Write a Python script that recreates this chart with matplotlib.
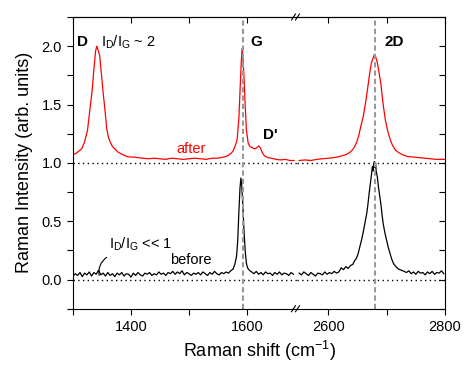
import numpy as np
import matplotlib
matplotlib.use('Agg')
import matplotlib.pyplot as plt

plt.rcParams['font.family'] = ['Liberation Sans', 'DejaVu Sans']
plt.rcParams['mathtext.fontset'] = 'custom'
plt.rcParams['mathtext.rm'] = 'Liberation Sans'
plt.rcParams['mathtext.it'] = 'Liberation Sans:italic'
plt.rcParams['mathtext.bf'] = 'Liberation Sans:bold'
plt.rcParams['axes.linewidth'] = 0.8

# ---- spectra (Raman shift in cm^-1, intensity in arb. units) ----
# "after" spectrum, low-wavenumber window (D, G, D')
after_lo_x = [1300, 1305, 1310, 1315, 1320, 1325, 1329, 1333, 1336, 1339, 1341, 1343, 1346, 1349,
              1352, 1355, 1358, 1361, 1364, 1368, 1372, 1378, 1384, 1390, 1396, 1404, 1412, 1420,
              1430, 1440, 1450, 1460, 1470, 1480, 1490, 1500, 1510, 1520, 1530, 1540, 1550, 1560,
              1566, 1571, 1576, 1580, 1583, 1586, 1588, 1590, 1591.5, 1593, 1595, 1597, 1599, 1602,
              1605, 1609, 1613, 1617, 1620, 1623, 1626, 1630, 1636, 1642, 1650, 1658, 1666, 1674, 1681]
after_lo_y = [1.07, 1.08, 1.10, 1.12, 1.18, 1.28, 1.45, 1.62, 1.80, 1.96, 2.00, 1.97, 1.92, 1.76,
              1.60, 1.46, 1.30, 1.22, 1.18, 1.14, 1.12, 1.09, 1.075, 1.06, 1.05, 1.05, 1.045, 1.04,
              1.035, 1.04, 1.035, 1.03, 1.04, 1.035, 1.03, 1.035, 1.04, 1.035, 1.03, 1.04, 1.04, 1.05,
              1.06, 1.075, 1.10, 1.15, 1.20, 1.38, 1.62, 1.85, 1.98, 1.90, 1.72, 1.48, 1.28, 1.17,
              1.14, 1.13, 1.12, 1.13, 1.145, 1.13, 1.09, 1.06, 1.045, 1.04, 1.03, 1.025, 1.03, 1.02, 1.02]

# "after" spectrum, 2D window
after_hi_x = [2550, 2560, 2570, 2580, 2590, 2600, 2610, 2620, 2630, 2637, 2643, 2648, 2652, 2656,
              2660, 2664, 2668, 2671, 2674, 2677, 2679, 2681, 2684, 2687, 2690, 2694, 2698, 2702,
              2706, 2710, 2715, 2720, 2727, 2735, 2745, 2755, 2765, 2775, 2785, 2795, 2800]
after_hi_y = [1.02, 1.025, 1.02, 1.03, 1.035, 1.04, 1.045, 1.055, 1.07, 1.09, 1.12, 1.17, 1.23, 1.32,
              1.40, 1.52, 1.66, 1.77, 1.86, 1.90, 1.93, 1.91, 1.86, 1.77, 1.68, 1.50, 1.36, 1.27,
              1.20, 1.15, 1.11, 1.09, 1.07, 1.055, 1.05, 1.045, 1.04, 1.035, 1.03, 1.03, 1.03]

# "before" spectrum, low-wavenumber window
before_lo_x = [1300, 1304, 1308, 1312, 1316, 1320, 1324, 1328, 1332, 1336, 1340,
               1344, 1348, 1352, 1356, 1360, 1364, 1368, 1372, 1376, 1380, 1384,
               1388, 1392, 1396, 1400, 1404, 1408, 1412, 1416, 1420, 1424, 1428,
               1432, 1436, 1440, 1444, 1448, 1452, 1456, 1460, 1464, 1468, 1472,
               1476, 1480, 1484, 1488, 1492, 1496, 1500, 1504, 1508, 1512, 1516,
               1520, 1524, 1528, 1532, 1536, 1540, 1544, 1548, 1552, 1556, 1560,
               1564, 1568, 1572, 1576, 1579, 1582, 1584, 1586, 1588, 1589.5, 1591, 1593,
               1595, 1597, 1599, 1601, 1604,
               1608, 1612, 1616, 1620, 1624, 1628, 1632, 1636, 1640, 1644, 1648, 1652,
               1656, 1660, 1664, 1668, 1672, 1676, 1680]
before_lo_y = [0.03, 0.05, 0.035, 0.06, 0.025, 0.055, 0.04, 0.065, 0.03, 0.06, 0.045,
               0.08, 0.04, 0.055, 0.03, 0.06, 0.035, 0.05, 0.025, 0.055, 0.04, 0.06,
               0.03, 0.05, 0.045, 0.02, 0.055, 0.035, 0.06, 0.04, 0.03, 0.055, 0.045,
               0.06, 0.035, 0.05, 0.04, 0.065, 0.045, 0.055, 0.035, 0.06, 0.05, 0.07,
               0.045, 0.065, 0.05, 0.075, 0.04, 0.06, 0.05, 0.035, 0.055, 0.045, 0.06,
               0.04, 0.065, 0.05, 0.035, 0.06, 0.045, 0.07, 0.05, 0.04, 0.06, 0.05,
               0.065, 0.055, 0.075, 0.09, 0.13, 0.20, 0.33, 0.58, 0.79, 0.87, 0.80, 0.62,
               0.40, 0.24, 0.14, 0.10, 0.08,
               0.065, 0.05, 0.07, 0.045, 0.06, 0.04, 0.065, 0.05, 0.055, 0.035, 0.06,
               0.045, 0.065, 0.04, 0.055, 0.05, 0.035, 0.06, 0.045]

# "before" spectrum, 2D window
before_hi_x = [2550, 2554, 2558, 2562, 2566, 2570, 2574, 2578, 2582, 2586, 2590, 2594,
               2598, 2602, 2606, 2610, 2614, 2618,
               2622, 2626, 2630, 2634, 2638, 2642, 2645, 2648, 2651, 2654, 2657, 2660, 2663,
               2666, 2668, 2670, 2672, 2674, 2675.5, 2677, 2678, 2679, 2680, 2681, 2682, 2684,
               2686, 2688, 2690, 2692, 2694, 2697, 2700, 2703, 2706, 2709, 2712, 2716, 2720, 2725,
               2730, 2734, 2738, 2742, 2746, 2750, 2754, 2758, 2762, 2766, 2770, 2774,
               2778, 2782, 2786, 2790, 2794, 2798]
before_hi_y = [0.055, 0.04, 0.065, 0.05, 0.035, 0.06, 0.045, 0.03, 0.055, 0.05, 0.04, 0.065,
               0.045, 0.06, 0.05, 0.07, 0.055, 0.065,
               0.10, 0.085, 0.11, 0.095, 0.12, 0.13, 0.16, 0.18, 0.22, 0.28, 0.34, 0.41, 0.49,
               0.57, 0.65, 0.74, 0.82, 0.90, 0.97, 0.93, 0.99, 1.01, 0.96, 1.00, 0.93, 0.88,
               0.79, 0.72, 0.65, 0.56, 0.48, 0.40, 0.335, 0.27, 0.22, 0.17, 0.135, 0.11, 0.09, 0.08,
               0.07, 0.06, 0.075, 0.05, 0.065, 0.045, 0.07, 0.055, 0.06, 0.04, 0.065, 0.05,
               0.07, 0.045, 0.06, 0.055, 0.075, 0.05]

# band positions marked with dashed lines
g_pos = 1593
d2_pos = 2680

# ---- layout (pixel geometry of the original) ----
W, H = 469, 371
fig = plt.figure(figsize=(W / 100, H / 100), dpi=100)
px_left, px_brk, px_right = 73, 296.7, 445
px_top, px_bot = 17, 308.7
ax_l = fig.add_axes([px_left / W, 1 - px_bot / H, (px_brk - px_left) / W, (px_bot - px_top) / H])
ax_r = fig.add_axes([px_brk / W, 1 - px_bot / H, (px_right - px_brk) / W, (px_bot - px_top) / H],
                    sharey=ax_l)

ax_l.set_xlim(1300, 1685.7)
ax_r.set_xlim(2545.8, 2800)
ax_l.set_ylim(-0.25, 2.25)

red = '#ff0000'
ax_l.plot(after_lo_x, after_lo_y, color=red, lw=0.9)
ax_r.plot(after_hi_x, after_hi_y, color=red, lw=0.9)
ax_l.plot(before_lo_x, before_lo_y, color='black', lw=0.9)
ax_r.plot(before_hi_x, before_hi_y, color='black', lw=0.9)

for ax in (ax_l, ax_r):
    for yy in (0.0, 1.0):
        ax.axhline(yy, color='black', lw=1.0, linestyle=(0, (1, 2.4)))
ax_l.axvline(g_pos, color='#999999', lw=1.5, linestyle=(0, (2.5, 1.5)))
ax_r.axvline(d2_pos, color='#999999', lw=1.5, linestyle=(0, (2.5, 1.5)))

# ---- ticks ----
ax_l.set_yticks([0.0, 0.5, 1.0, 1.5, 2.0])
ax_l.set_yticks([-0.25, 0.25, 0.75, 1.25, 1.75, 2.25], minor=True)
ax_l.set_yticklabels(['0.0', '0.5', '1.0', '1.5', '2.0'])
ax_l.set_xticks([1400, 1600])
ax_l.set_xticks([1300, 1500], minor=True)
ax_r.set_xticks([2600, 2800])
ax_r.set_xticks([2700], minor=True)

ax_l.spines['right'].set_visible(False)
ax_r.spines['left'].set_visible(False)
ax_l.yaxis.tick_left()
ax_r.yaxis.tick_right()

ax_l.tick_params(which='both', direction='out', length=4, width=0.8, labelsize=10.5, pad=4)
ax_r.tick_params(axis='x', which='both', direction='out', length=4, width=0.8, labelsize=10.5, pad=4)
ax_r.tick_params(axis='y', which='both', direction='in', length=4, width=0.8, labelright=False)

for ax, maj, mnr in ((ax_l, [1400, 1600], [1300, 1500]), (ax_r, [2600, 2800], [2700])):
    sec = ax.secondary_xaxis('top')
    sec.set_xticks(maj)
    sec.set_xticks(mnr, minor=True)
    sec.tick_params(which='both', direction='in', length=4, width=0.8, labeltop=False)
    sec.spines['top'].set_linewidth(0.8)

# break marks on top and bottom spines
for yb in (px_top, px_bot):
    for x_s in (291.5, 295.5):
        fig.add_artist(plt.Line2D([x_s / W, (x_s + 4) / W], [1 - (yb + 3) / H, 1 - (yb - 3) / H],
                                  transform=fig.transFigure, color='black', lw=0.8))

# ---- labels ----
fig.text(0.5 * (px_left + px_right) / W, 1 - 357 / H, 'Raman shift (cm$^{-1}$)',
         ha='center', va='baseline', fontsize=13)
ax_l.set_ylabel('Raman Intensity (arb. units)', fontsize=13, labelpad=6)

ax_l.text(1307, 2.0, 'D', fontsize=11, fontweight='bold', ha='left', va='baseline')
ax_l.text(1348, 2.0, r'I$_\mathregular{D}$/I$_\mathregular{G}$ ~ 2', fontsize=10.5,
          ha='left', va='baseline')
ax_l.text(1605.5, 2.0, 'G', fontsize=11, fontweight='bold', ha='left', va='baseline')
ax_l.text(1628, 1.205, "D'", fontsize=11, fontweight='bold', ha='left', va='baseline')
ax_r.text(2695.5, 2.0, '2D', fontsize=11, fontweight='bold', ha='left', va='baseline')
ax_l.text(1477.5, 1.083, 'after', color=red, fontsize=10.5, ha='left', va='baseline')
ax_l.text(1467, 0.129, 'before', fontsize=10.5, ha='left', va='baseline')
ax_l.text(1362.5, 0.264, r'I$_\mathregular{D}$/I$_\mathregular{G}$ << 1', fontsize=10.5,
          ha='left', va='baseline')
ax_l.annotate('', xy=(1345, 0.035), xytext=(1358, 0.19),
              arrowprops=dict(arrowstyle='-', color='black', lw=0.8,
                              connectionstyle='arc3,rad=0.3', shrinkA=0, shrinkB=0))

fig.savefig('out.png', dpi=100)
